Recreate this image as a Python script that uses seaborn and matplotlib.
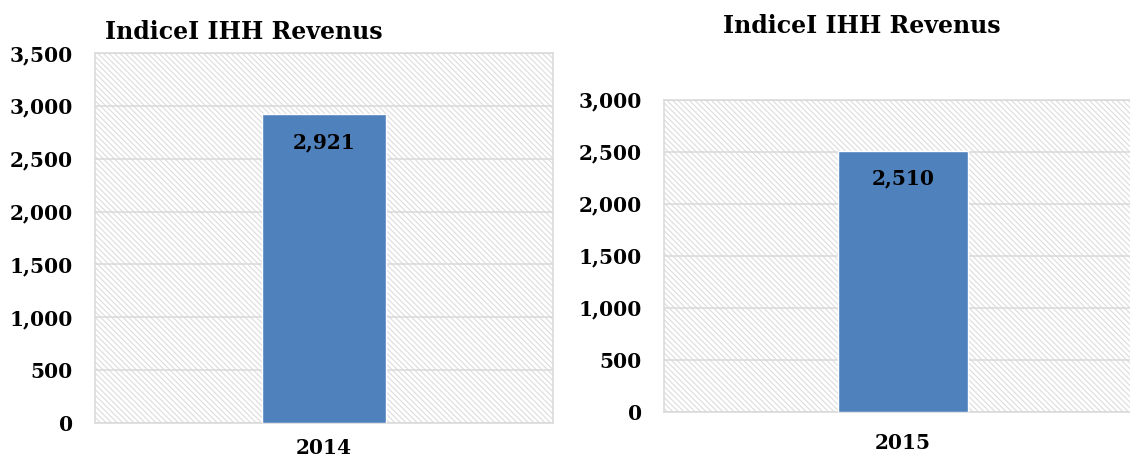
import matplotlib
matplotlib.use("Agg")
import matplotlib.pyplot as plt
from matplotlib.patches import Rectangle
from matplotlib.ticker import FuncFormatter
import pandas as pd
import seaborn as sns

# Herfindahl-Hirschman index of revenues, one panel per year
years = ["2014", "2015"]
hhi_values = [2921, 2510]
y_limits = [3500, 3000]
title_text = "IndiceI IHH Revenus"

BAR_COLOR = "#4f81bd"
GRID_COLOR = "#d9d9d9"
HATCH_COLOR = "#dcdcdc"

sns.set_theme(style="white")
plt.rcParams["font.family"] = ["DejaVu Serif", "DejaVu Sans"]
plt.rcParams["font.weight"] = "bold"
plt.rcParams["text.color"] = "black"
plt.rcParams["xtick.color"] = "black"
plt.rcParams["ytick.color"] = "black"
plt.rcParams["hatch.linewidth"] = 0.8

fig = plt.figure(figsize=(11.3, 4.61), dpi=100)

# axes rectangles in figure fractions
axes_rects = [
    [95 / 1130, (461 - 423) / 461, (553 - 95) / 1130, (423 - 53) / 461],
    [664 / 1130, (461 - 412) / 461, (1142 - 664) / 1130, (412 - 99.5) / 461],
]
title_pos = [(244 / 1130, 1 - 39 / 461), (862 / 1130, 1 - 33 / 461)]
xlabel_pad = [11, 15]

thousands = FuncFormatter(lambda v, _: f"{int(v):,}")

for year, value, ymax, rect, tpos, xpad in zip(years, hhi_values, y_limits, axes_rects,
                                              title_pos, xlabel_pad):
    ax = fig.add_axes(rect)
    df = pd.DataFrame({"year": [year], "hhi": [value]})

    # finely hatched plot area
    ax.add_patch(Rectangle((0, 0), 1, 1, transform=ax.transAxes, facecolor="white",
                           edgecolor=HATCH_COLOR, linewidth=0, hatch="\\" * 6, zorder=0))

    sns.barplot(data=df, x="year", y="hhi", ax=ax, color=BAR_COLOR, saturation=1,
                width=0.27, zorder=3)

    ax.set_ylim(0, ymax)
    ax.set_yticks(range(0, ymax + 1, 500))
    ax.yaxis.set_major_formatter(thousands)
    ax.yaxis.grid(True, color=GRID_COLOR, linewidth=1.1, zorder=1)
    ax.set_axisbelow(True)
    ax.set_xlabel("")
    ax.set_ylabel("")
    for sp in ax.spines.values():
        sp.set_visible(True)
        sp.set_color(GRID_COLOR)
        sp.set_linewidth(1.1)
    ax.tick_params(axis="y", length=0, pad=16, labelsize=14.5)
    ax.tick_params(axis="x", length=0, pad=xpad, labelsize=14.5)
    for lbl in ax.get_xticklabels() + ax.get_yticklabels():
        lbl.set_fontweight("bold")

    for patch, v in zip(ax.patches[1:], [value]):
        ax.annotate(f"{v:,}", xy=(patch.get_x() + patch.get_width() / 2, v),
                    xytext=(0, -13), textcoords="offset points",
                    ha="center", va="top", fontsize=14.5, fontweight="bold",
                    color="black", zorder=5)

    fig.text(tpos[0], tpos[1], title_text, ha="center", va="baseline",
             fontsize=17, fontweight="bold", color="black")

fig.savefig("out.png", dpi=100)
